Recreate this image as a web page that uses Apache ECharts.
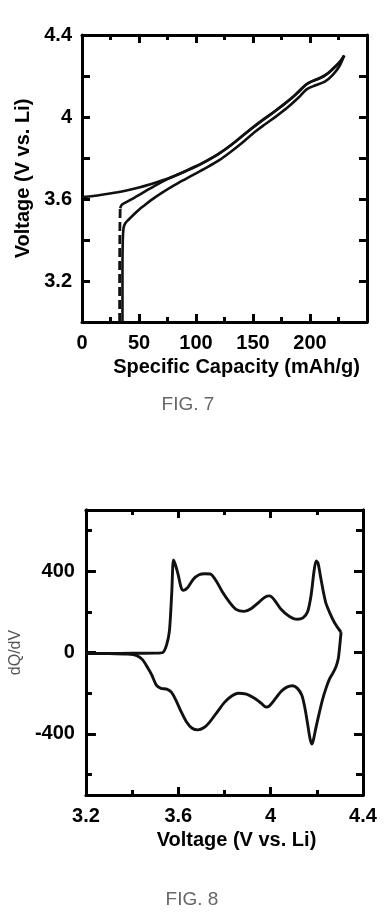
<!DOCTYPE html>
<html><head><meta charset="utf-8">
<script src="https://cdn.jsdelivr.net/npm/echarts@6/dist/echarts.min.js"></script>
<style>html,body{margin:0;padding:0;background:#fff}#c{width:388px;height:924px}</style>
</head><body><div id="c"></div>
<script>
// ---------- tick labels ----------
const fig7XLabels = [0, 50, 100, 150, 200];
const fig7YLabels = [3.2, 3.6, 4.0, 4.4];
const fig8XLabels = [3.2, 3.6, 4.0, 4.4];
const fig8YLabels = [-400, 0, 400];
const fig8YMinorTicks = [-600, -200, 200, 600];

// ---------- FIG. 7 : [capacity mAh/g, voltage V] ----------
const fig7CurveA = [[0,3.610],[10,3.615],[20,3.623],[30,3.632],[40,3.643],[50,3.656],[60,3.672],[70,3.690],[80,3.710],[90,3.733],[100,3.758],[110,3.787],[120,3.820],[130,3.860],[140,3.905],[150,3.950],[160,3.992],[170,4.032],[180,4.075],[190,4.122],[197,4.160],[204,4.180],[212,4.198],[220,4.235],[226,4.268],[230,4.300]];
const fig7CurveBRise = [[33,3.00],[33,3.25],[33.2,3.45],[33.5,3.555]];
const fig7CurveB = [[33.5,3.555],[35,3.572],[38,3.582],[42,3.594],[47,3.610],[55,3.636],[65,3.668],[75,3.697],[85,3.722],[95,3.748],[105,3.774],[115,3.804],[125,3.840],[135,3.882],[145,3.927],[155,3.970],[165,4.010],[175,4.052],[185,4.097],[194,4.147],[200,4.170],[208,4.188],[216,4.214],[223,4.250],[228,4.282],[230,4.299]];
const fig7CurveC = [[35.5,3.00],[35.5,3.25],[35.8,3.40],[36.5,3.460],[38,3.482],[41,3.500],[45,3.522],[50,3.548],[55,3.570],[60,3.592],[70,3.630],[80,3.664],[90,3.695],[100,3.725],[110,3.755],[120,3.788],[130,3.828],[140,3.872],[150,3.920],[160,3.962],[170,4.002],[180,4.045],[190,4.095],[197,4.135],[205,4.155],[213,4.172],[220,4.205],[226,4.250],[230,4.300]];

// ---------- FIG. 8 : [voltage V, dQ/dV] ----------
const fig8Charge = [[3.20,-5],[3.30,-5],[3.40,-4],[3.50,-3],[3.533,0],[3.550,40],[3.562,110],[3.572,300],[3.579,455],[3.588,430],[3.600,380],[3.612,320],[3.622,305],[3.640,318],[3.665,360],[3.690,382],[3.715,387],[3.740,385],[3.765,350],[3.790,300],[3.820,250],[3.850,212],[3.885,202],[3.915,215],[3.950,248],[3.975,272],[3.995,278],[4.015,260],[4.045,212],[4.080,178],[4.115,163],[4.140,170],[4.160,200],[4.175,280],[4.188,400],[4.197,450],[4.205,440],[4.215,380],[4.228,300],[4.240,240],[4.258,190],[4.275,150],[4.295,115],[4.305,100]];
const fig8Discharge = [[4.305,100],[4.300,40],[4.293,-30],[4.283,-70],[4.270,-100],[4.255,-130],[4.240,-175],[4.225,-230],[4.210,-300],[4.196,-370],[4.185,-430],[4.178,-450],[4.170,-420],[4.160,-350],[4.148,-270],[4.135,-210],[4.115,-175],[4.095,-163],[4.070,-170],[4.045,-192],[4.015,-235],[3.995,-262],[3.980,-268],[3.960,-250],[3.930,-225],[3.895,-205],[3.860,-200],[3.830,-215],[3.800,-245],[3.770,-290],[3.735,-343],[3.710,-370],[3.685,-380],[3.660,-372],[3.635,-340],[3.610,-285],[3.590,-235],[3.570,-195],[3.550,-180],[3.525,-176],[3.505,-160],[3.485,-110],[3.465,-70],[3.445,-35],[3.420,-15],[3.380,-8],[3.300,-5],[3.200,-4]];

const FONT = 'Liberation Sans, Arial, Helvetica, sans-serif';
const INK = '#000';
const labelStyle = {fontFamily: FONT, fontSize: 20, fontWeight: 'bold', color: INK};
const fmt = v => String(+(+v).toFixed(1));
const lineAx = {show: true, onZero: false, lineStyle: {color: INK, width: 3}};

function xAx(grid, pos, min, max, interval, labels, name) {
  const a = {
    type: 'value', gridIndex: grid, position: pos, min, max, interval,
    axisLine: lineAx,
    axisTick: {show: true, inside: true, length: 8, lineStyle: {color: INK, width: 3}},
    minorTick: {show: true, splitNumber: 2, length: 5, lineStyle: {color: INK, width: 3}},
    splitLine: {show: false}, minorSplitLine: {show: false},
    axisLabel: {show: false}
  };
  if (labels) {
    a.axisLabel = Object.assign({show: true, customValues: labels, margin: 11, formatter: fmt}, labelStyle);
    a.name = name; a.nameLocation = 'middle'; a.nameGap = 35;
    a.nameTextStyle = Object.assign({padding: [0, 0, 0, 24]}, labelStyle);
  }
  return a;
}
function yAx(grid, pos, min, max, extra) {
  return Object.assign({
    type: 'value', gridIndex: grid, position: pos, min, max,
    axisLine: lineAx, splitLine: {show: false}, axisLabel: {show: false}
  }, extra);
}
const tick = (len, vals) => Object.assign({show: true, inside: true, length: len, lineStyle: {color: INK, width: 3}}, vals ? {customValues: vals} : {});

const option = {
  animation: false,
  backgroundColor: '#fff',
  grid: [
    {left: 82, top: 35, width: 285, height: 287},
    {left: 82, top: 510, width: 281, height: 285}
  ],
  xAxis: [
    xAx(0, 'bottom', 0, 250, 50, fig7XLabels, 'Specific Capacity (mAh/g)'),
    xAx(0, 'top', 0, 250, 50, null),
    xAx(1, 'bottom', 3.2, 4.4, 0.4, fig8XLabels, 'Voltage (V vs. Li)'),
    xAx(1, 'top', 3.2, 4.4, 0.4, null)
  ],
  yAxis: [
    yAx(0, 'left', 3.0, 4.4, {
      interval: 0.2, axisTick: tick(8),
      axisLabel: Object.assign({customValues: fig7YLabels, margin: 10, formatter: fmt}, labelStyle),
      name: 'Voltage (V vs. Li)', nameLocation: 'middle', nameGap: 44, nameRotate: 90,
      nameTextStyle: labelStyle
    }),
    yAx(0, 'right', 3.0, 4.4, {interval: 0.2, axisTick: tick(8)}),
    yAx(1, 'left', -700, 700, {
      axisTick: tick(10, fig8YLabels),
      axisLabel: Object.assign({customValues: fig8YLabels, margin: 11, formatter: v => String(v)}, labelStyle),
      name: 'dQ/dV', nameLocation: 'middle', nameGap: 61, nameRotate: 90,
      nameTextStyle: {fontFamily: FONT, fontSize: 16, fontWeight: 'normal', color: '#555'}
    }),
    yAx(1, 'left', -700, 700, {axisTick: tick(6, fig8YMinorTicks)}),
    yAx(1, 'right', -700, 700, {axisTick: tick(9, fig8YLabels)}),
    yAx(1, 'right', -700, 700, {axisTick: tick(7, fig8YMinorTicks)})
  ],
  series: [
    {type: 'line', xAxisIndex: 0, yAxisIndex: 0, data: fig7CurveC, showSymbol: false, smooth: 0.3,
     lineStyle: {color: '#111', width: 2.6}},
    {type: 'line', xAxisIndex: 0, yAxisIndex: 0, data: fig7CurveBRise, showSymbol: false,
     lineStyle: {color: '#111', width: 2.8, type: [9, 4]}},
    {type: 'line', xAxisIndex: 0, yAxisIndex: 0, data: fig7CurveB, showSymbol: false, smooth: 0.3,
     lineStyle: {color: '#111', width: 2.6}},
    {type: 'line', xAxisIndex: 0, yAxisIndex: 0, data: fig7CurveA, showSymbol: false, smooth: 0.3,
     lineStyle: {color: '#111', width: 2.6}},
    {type: 'line', xAxisIndex: 2, yAxisIndex: 2, data: fig8Charge, showSymbol: false, smooth: 0.25,
     lineStyle: {color: '#111', width: 2.9}},
    {type: 'line', xAxisIndex: 2, yAxisIndex: 2, data: fig8Discharge, showSymbol: false, smooth: 0.25,
     lineStyle: {color: '#111', width: 2.9}}
  ],
  graphic: [
    {type: 'text', x: 188, y: 405, style: {text: 'FIG. 7', align: 'center', verticalAlign: 'middle',
      font: '19px ' + FONT, fill: '#666'}},
    {type: 'text', x: 192, y: 900, style: {text: 'FIG. 8', align: 'center', verticalAlign: 'middle',
      font: '19px ' + FONT, fill: '#666'}}
  ]
};

echarts.init(document.getElementById('c'), null, {renderer: 'canvas'}).setOption(option);
</script>
</body></html>
